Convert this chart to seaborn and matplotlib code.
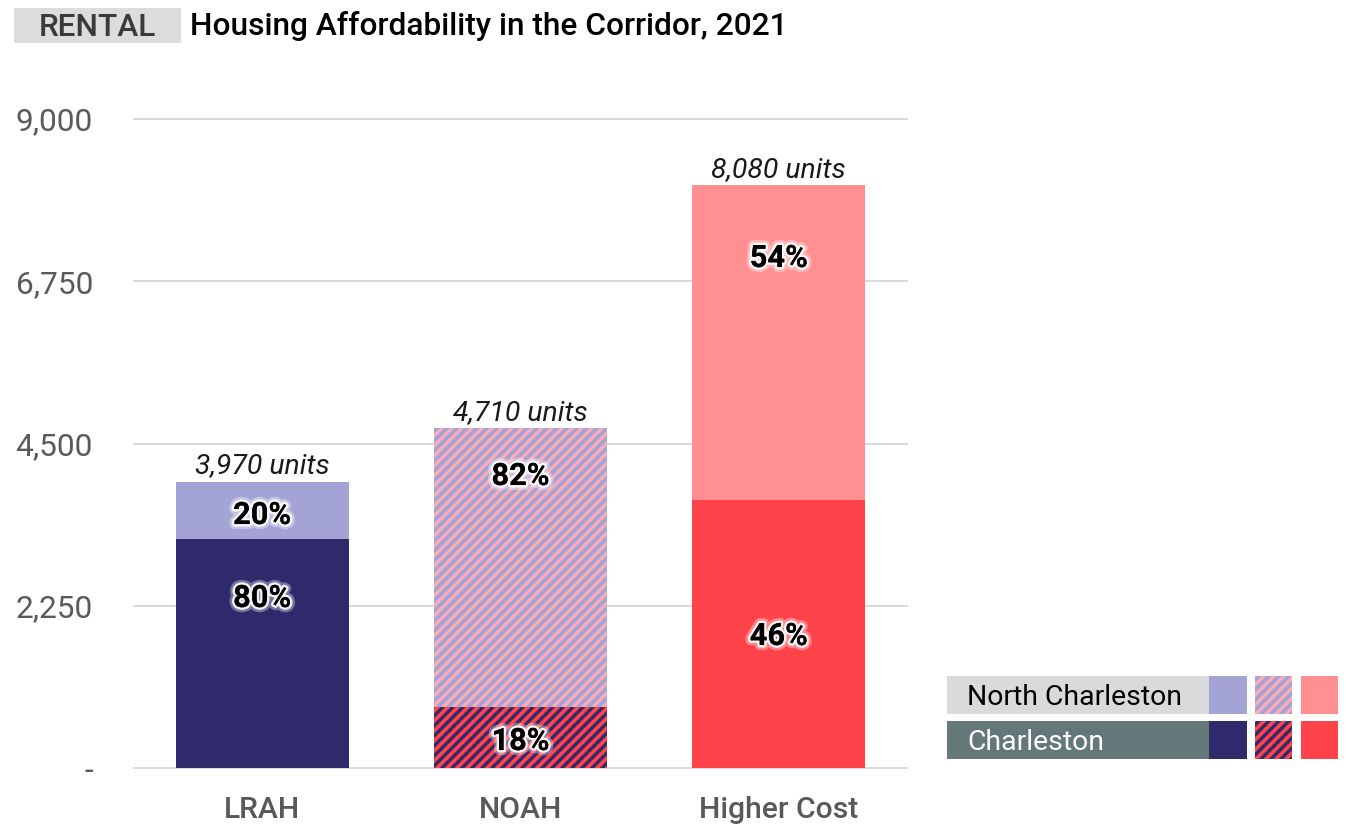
import matplotlib
matplotlib.use("Agg")
import matplotlib.pyplot as plt
import matplotlib.patheffects as pe
from matplotlib.patches import Rectangle
import pandas as pd
import seaborn as sns

# ---- data -------------------------------------------------------------
categories = ["LRAH", "NOAH", "Higher Cost"]
total_units = [3970, 4710, 8080]
charleston_pct = [80, 18, 46]
north_charleston_pct = [20, 82, 54]
y_ticks = [0, 2250, 4500, 6750, 9000]
y_tick_labels = ["-", "2,250", "4,500", "6,750", "9,000"]

# label heights (data units) for the percentage annotations
nc_label_y = [3508, 4049, 7072]
ch_label_y = [2357, 374, 1830]

# ---- styling ----------------------------------------------------------
NAVY = "#2E2A6B"
LAVENDER = "#A3A3D5"
PINK = "#FF8F91"
RED = "#FF434A"
STRIPE_PINK = "#FBACB6"
GRID = "#DADADA"
HATCH = "////"

W, H, DPI = 1347, 826, 120
sns.set_theme(style="white")
plt.rcParams["font.family"] = ["Roboto", "DejaVu Sans"]
plt.rcParams["hatch.linewidth"] = 2.0

fig = plt.figure(figsize=(W / DPI, H / DPI), dpi=DPI)

# axes placed so that 0 -> y=768 px and 9000 -> y=119 px
px_per_unit = (768 - 119) / 9000
ylo, yhi = -60, 9100
bot_px = 768 + (0 - ylo) * px_per_unit
top_px = 119 - (yhi - 9000) * px_per_unit
ax = fig.add_axes([133 / W, 1 - bot_px / H, (908 - 133) / W, (bot_px - top_px) / H])

df = pd.DataFrame({
    "category": categories,
    "total": total_units,
    "charleston": [t * p / 100 for t, p in zip(total_units, charleston_pct)],
})

nc_colors = {"LRAH": LAVENDER, "NOAH": LAVENDER, "Higher Cost": PINK}
ch_colors = {"LRAH": NAVY, "NOAH": RED, "Higher Cost": RED}

# full-height bars (North Charleston share sits on top)
sns.barplot(data=df, x="category", y="total", hue="category", palette=nc_colors,
            width=0.67, legend=False, ax=ax, saturation=1, linewidth=0)
n_first = len(ax.patches)
# Charleston share drawn from the baseline over the full bars
sns.barplot(data=df, x="category", y="charleston", hue="category", palette=ch_colors,
            width=0.67, legend=False, ax=ax, saturation=1, linewidth=0)

bars_nc = ax.patches[:n_first]
bars_ch = ax.patches[n_first:]
noah = categories.index("NOAH")


def find_bar(bars, i):
    for b in bars:
        cx = b.get_x() + b.get_width() / 2
        if abs(cx - i) < 0.01:
            return b
    return None


b = find_bar(bars_nc, noah)
b.set_hatch(HATCH)
b.set_edgecolor(STRIPE_PINK)
b.set_linewidth(0)
b = find_bar(bars_ch, noah)
b.set_hatch(HATCH)
b.set_edgecolor(NAVY)
b.set_linewidth(0)

ax.set_ylim(ylo, yhi)
ax.set_xlim(-0.5, 2.5)
ax.set_yticks(y_ticks)
ax.set_yticklabels(y_tick_labels)
ax.set_xlabel("")
ax.set_ylabel("")
for s in ax.spines.values():
    s.set_visible(False)
ax.grid(axis="y", color=GRID, linewidth=1.2, zorder=0)
ax.set_axisbelow(True)
ax.tick_params(axis="y", length=0, pad=24, labelsize=19, labelcolor="#5A5A5A")
ax.tick_params(axis="x", length=0, pad=14, labelsize=18, labelcolor="#595959")
for t in ax.get_xticklabels():
    t.set_fontweight("medium")

glow = [pe.withStroke(linewidth=6, foreground="white", alpha=0.35),
        pe.withStroke(linewidth=3.0, foreground="white", alpha=0.9),
        pe.Normal()]

for i, cat in enumerate(categories):
    ax.annotate(f"{total_units[i]:,} units", (i, total_units[i]), xytext=(0, 1.5),
                textcoords="offset points", ha="center", va="bottom",
                fontsize=17, fontstyle="italic", fontweight="normal", color="#1A1A1A")
    ax.text(i, nc_label_y[i], f"{north_charleston_pct[i]}%", ha="center", va="center",
            fontsize=18.5, fontweight="bold", color="black", path_effects=glow, zorder=5)
    ax.text(i, ch_label_y[i], f"{charleston_pct[i]}%", ha="center", va="center",
            fontsize=18.5, fontweight="bold", color="black", path_effects=glow, zorder=5)


# ---- header -------------------------------------------------------------
def fig_rect(x0, y0, x1, y1, **kw):
    r = Rectangle((x0 / W, 1 - y1 / H), (x1 - x0) / W, (y1 - y0) / H,
                  transform=fig.transFigure, **kw)
    fig.add_artist(r)
    return r


fig_rect(14, 8, 181, 43, facecolor="#DCDCDC", linewidth=0)
fig.text(97.5 / W, 1 - 27 / H, "RENTAL", ha="center", va="center",
         fontsize=19, fontweight="medium", color="#3A3A3A")
fig.text(190 / W, 1 - 26 / H, "Housing Affordability in the Corridor, 2021",
         ha="left", va="center", fontsize=19, fontweight="medium", color="black")

# ---- legend -------------------------------------------------------------
rows = [
    ("North Charleston", "#D9DADC", "black", [LAVENDER, (LAVENDER, STRIPE_PINK), PINK], 676, 714),
    ("Charleston", "#647779", "white", [NAVY, (RED, NAVY), RED], 721, 759),
]
swatch_x = [(1209, 1247), (1255, 1292), (1301, 1338)]
for label, box_col, txt_col, swatches, y0, y1 in rows:
    fig_rect(947, y0, 1209, y1, facecolor=box_col, linewidth=0)
    fig.text(967 / W, 1 - ((y0 + y1) / 2 + 2.5) / H, label, ha="left", va="center",
             fontsize=17, color=txt_col)
    for (x0, x1), sw in zip(swatch_x, swatches):
        if isinstance(sw, tuple):
            fig_rect(x0, y0, x1, y1, facecolor=sw[0], edgecolor=sw[1],
                     hatch=HATCH, linewidth=0)
        else:
            fig_rect(x0, y0, x1, y1, facecolor=sw, linewidth=0)

fig.savefig("out.png", dpi=DPI)
